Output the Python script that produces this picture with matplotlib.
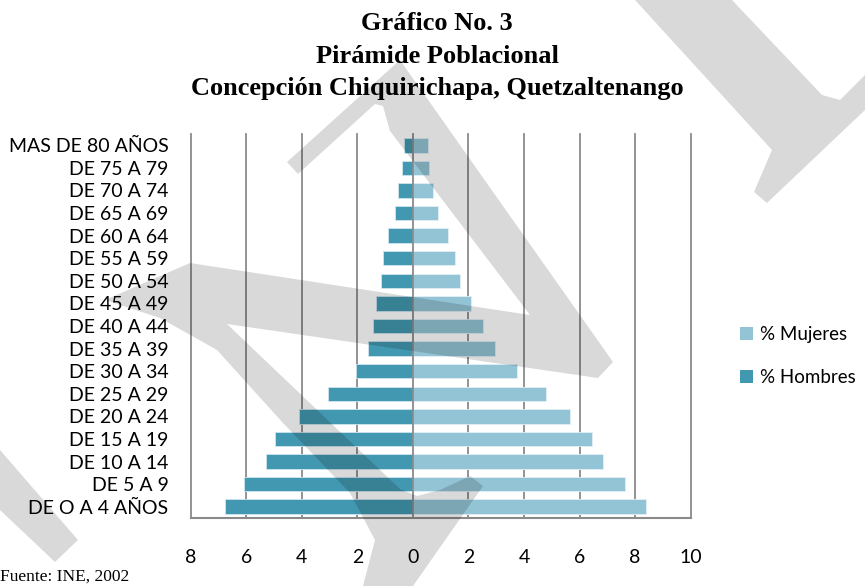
import matplotlib
matplotlib.use("Agg")
import matplotlib.pyplot as plt
from matplotlib.patches import Polygon, Patch
import numpy as np

# datos (porcentaje de la población), de abajo hacia arriba
grupos = ['DE O A 4 AÑOS', 'DE 5 A 9', 'DE 10 A 14', 'DE 15 A 19', 'DE 20 A 24',
          'DE 25 A 29', 'DE 30 A 34', 'DE 35 A 39', 'DE 40 A 44', 'DE 45 A 49',
          'DE 50 A 54', 'DE 55 A 59', 'DE 60 A 64', 'DE 65 A 69', 'DE 70 A 74',
          'DE 75 A 79', 'MAS DE 80 AÑOS']
hombres = [6.76, 6.08, 5.28, 4.96, 4.10, 3.06, 2.06, 1.63, 1.45, 1.33,
           1.14, 1.08, 0.90, 0.65, 0.52, 0.41, 0.32]
mujeres = [8.38, 7.64, 6.83, 6.46, 5.66, 4.80, 3.74, 2.94, 2.52, 2.09,
           1.70, 1.52, 1.27, 0.90, 0.72, 0.59, 0.53]
xticks = [-8, -6, -4, -2, 0, 2, 4, 6, 8, 10]
xlabels = ['8', '6', '4', '2', '0', '2', '4', '6', '8', '10']

col_h = '#4298B0'
col_m = '#93C4D5'
W, H = 865, 586

fig = plt.figure(figsize=(W / 100, H / 100), dpi=100)
ax = fig.add_axes([190.7 / W, 1 - 518 / H, 500 / W, 384 / H])

y = np.arange(len(grupos))
ax.barh(y, [-v for v in hombres], height=0.64, color=col_h, edgecolor='#cfe6ee', linewidth=0.6, zorder=2)
ax.barh(y, mujeres, height=0.64, color=col_m, edgecolor='#e3f0f5', linewidth=0.6, zorder=2)

ax.set_xlim(-8, 10)
ax.set_ylim(-0.5, len(grupos) - 0.5)
ax.set_xticks(xticks)
ax.set_xticklabels(xlabels)
ax.set_yticks(y)
ax.set_yticklabels(grupos)

for xv in xticks:
    ax.axvline(xv, color='#8a8a8a', lw=1.3, zorder=1 if xv != 0 else 3, clip_on=False)

for s in ['top', 'left', 'right']:
    ax.spines[s].set_visible(False)
ax.spines['bottom'].set_color('#8a8a8a')
ax.spines['bottom'].set_linewidth(1.5)
ax.tick_params(axis='both', length=0, labelsize=14)
ax.tick_params(axis='y', pad=16)
ax.tick_params(axis='x', pad=22)
for lab in ax.get_xticklabels() + ax.get_yticklabels():
    lab.set_fontfamily('Lato')

# titulo
titulo = ['Gráfico No. 3', 'Pirámide Poblacional', 'Concepción Chiquirichapa, Quetzaltenango']
for i, t in enumerate(titulo):
    fig.text(437 / W, 1 - (24 + 32.5 * i) / H, t, ha='center', va='center',
             fontsize=19, fontweight='bold', fontfamily='Liberation Serif')

fig.text(0, 1 - 577 / H, 'Fuente: INE, 2002', ha='left', va='center',
         fontsize=12.5, fontfamily='Liberation Serif')

# leyenda
handles = [Patch(facecolor=col_m, label='% Mujeres'), Patch(facecolor=col_h, label='% Hombres')]
leg = fig.legend(handles=handles, loc='upper left', bbox_to_anchor=(723 / W, 1 - 309 / H),
                 frameon=False, handlelength=0.7, handleheight=0.7, handletextpad=0.35,
                 labelspacing=1.4, prop={'family': 'Lato', 'size': 13.5})

# marca de agua gris
def px(pts):
    return [(a / W, 1 - b / H) for a, b in pts]

formas = [
    [(635, 0), (732, 0), (822, 95), (840, 100), (865, 75), (865, 110),
     (767, 203), (754, 192), (772, 150)],
    [(287, 162), (400, 60), (613, 362), (598, 378), (227, 324), (400, 489),
     (417, 496), (440, 490), (470, 476), (483, 486), (413, 586), (363, 586),
     (375, 540), (350, 493), (283, 423), (217, 350), (160, 318), (105, 300),
     (190, 263), (530, 315), (390, 131), (383, 106), (375, 104), (298, 174)],
    [(0, 450), (78, 540), (55, 562), (0, 510)],
]
for f in formas:
    fig.patches.append(Polygon(px(f), closed=True, transform=fig.transFigure,
                               facecolor='black', alpha=0.15, edgecolor='none', zorder=10))

fig.savefig('out.png', dpi=100)
